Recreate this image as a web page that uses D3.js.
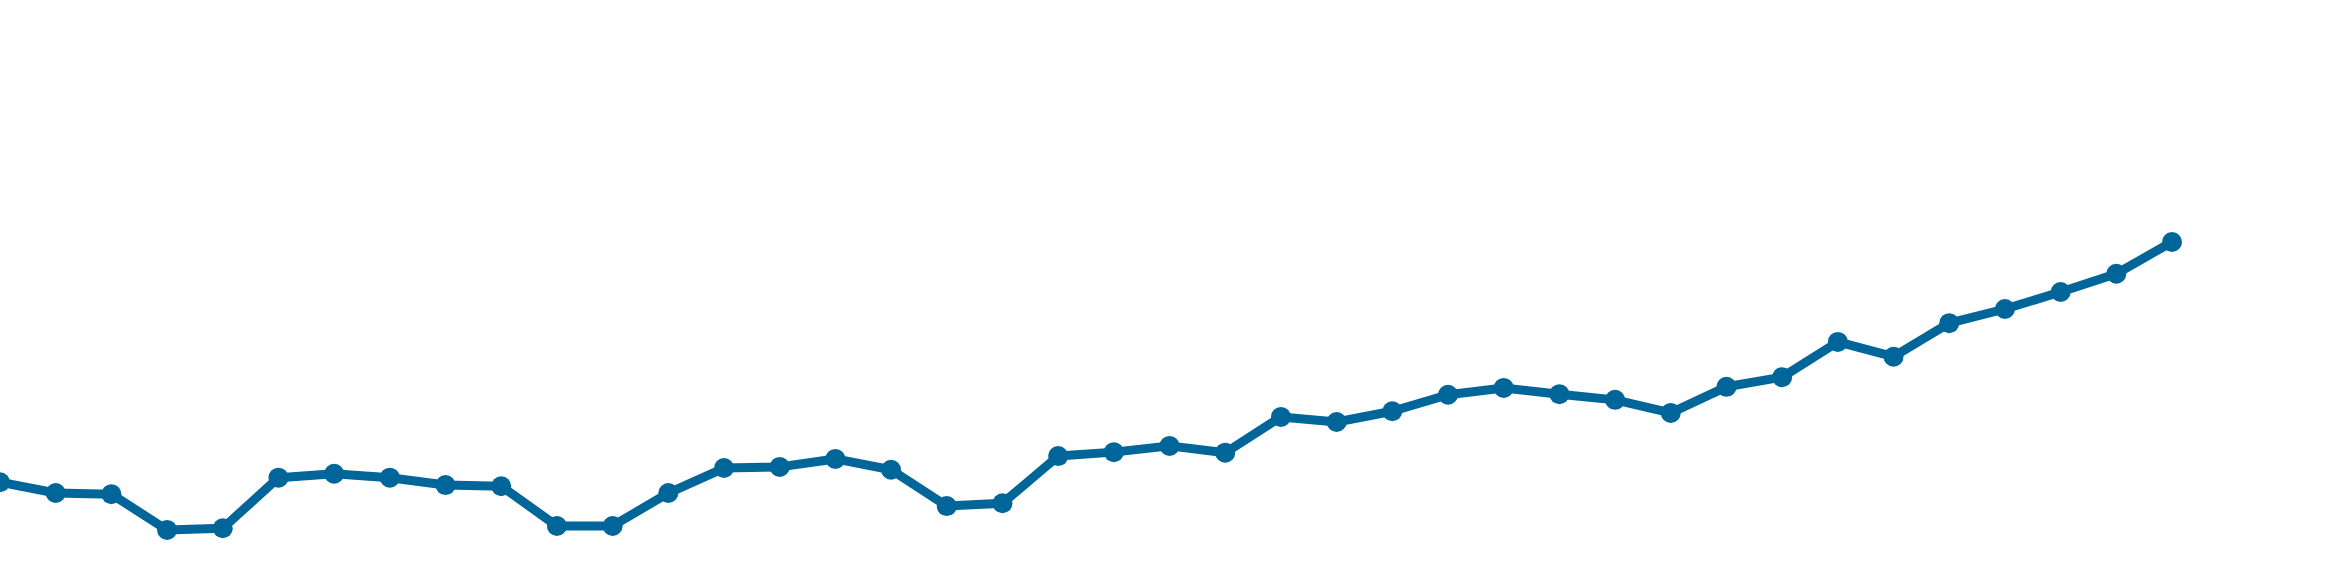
<!DOCTYPE html>
<html>
<head>
<meta charset="utf-8">
<script src="https://cdn.jsdelivr.net/npm/d3@7"></script>
<style>
  html, body { margin: 0; padding: 0; background: #ffffff; }
  svg { display: block; }
</style>
</head>
<body>
<svg id="chart" width="2342" height="568"></svg>
<script>
// Data
const categories = d3.range(1, 41);
const values = [
  15.1, 13.2, 13.0, 6.7, 7.0, 15.9, 16.6, 15.9, 14.6, 14.4,
  7.4, 7.4, 13.2, 17.6, 17.8, 19.2, 17.3, 10.9, 11.4, 19.7,
  20.4, 21.5, 20.3, 26.6, 25.7, 27.6, 30.5, 31.7, 30.6, 29.6,
  27.3, 31.9, 33.6, 39.8, 37.2, 43.1, 45.6, 48.6, 51.8, 57.4
];

const width = 2342, height = 568;
const svg = d3.select("#chart");

const x = d3.scaleLinear()
  .domain([categories[0], categories[categories.length - 1]])
  .range([0, 2172]);

const y = d3.scaleLinear()
  .domain([0, 100])
  .range([height, 0]);

const data = categories.map((c, i) => ({ c, v: values[i] }));

const color = "#006699";

svg.append("path")
  .datum(data)
  .attr("fill", "none")
  .attr("stroke", color)
  .attr("stroke-width", 9)
  .attr("stroke-linejoin", "round")
  .attr("d", d3.line().x(d => x(d.c)).y(d => y(d.v)));

svg.selectAll("circle.pt")
  .data(data)
  .enter()
  .append("circle")
  .attr("class", "pt")
  .attr("cx", d => x(d.c))
  .attr("cy", d => y(d.v))
  .attr("r", 10)
  .attr("fill", color);
</script>
</body>
</html>
